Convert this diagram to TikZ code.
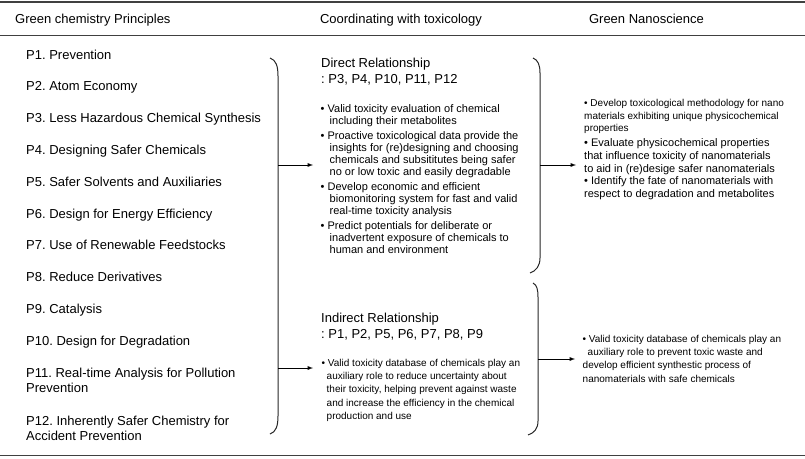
\documentclass[tikz,border=0pt]{standalone}
\usepackage{fontspec}
\setmainfont{Liberation Sans}
\begin{document}
\frenchspacing
\begin{tikzpicture}[x=1pt,y=-1pt,
        txt/.style={anchor=base west,inner sep=0pt,align=left},
        head/.style={font=\fontsize{13}{15.5}\selectfont},
        bulbig/.style={font=\fontsize{11}{12}\selectfont},
        bulsmall/.style={font=\fontsize{10}{13.2}\selectfont},
        rule/.style={black!75,line width=1.5pt},
        brace/.style={black!85,line width=1pt},
        arr/.style={-latex,line width=0.9pt}]
    \useasboundingbox (0,0) rectangle (805,458);

    % Linien der Tabelle
    \draw[rule] (0,2) -- (805,2);
    \draw[rule] (0,35.5) -- (805,35.5);
    \draw[rule] (0,455.5) -- (805,455.5);

    % Spaltenköpfe
    \node[txt,head] (h1) at (15,23) {Green chemistry Principles};
    \node[head,anchor=base,inner sep=0pt] (h2) at (401,23) {Coordinating with toxicology};
    \node[head,anchor=base,inner sep=0pt] (h3) at (646.5,23) {Green Nanoscience};

    % Prinzipien P1 bis P12 (Basislinie = letzte Zeile)
    \foreach \i/\txt in {1/Prevention, 2/Atom Economy, 3/Less Hazardous Chemical Synthesis,
            4/Designing Safer Chemicals, 5/Safer Solvents and Auxiliaries,
            6/Design for Energy Efficiency, 7/Use of Renewable Feedstocks,
            8/Reduce Derivatives, 9/Catalysis, 10/Design for Degradation} {
        \node[txt,head] (p\i) at (26,{59+31.8*(\i-1)}) {P\i. \txt};
    }
    \node[txt,head] (p11) at (26,392.5) {P11. Real-time Analysis for Pollution\\Prevention};
    \node[txt,head] (p12) at (26,440.5) {P12. Inherently Safer Chemistry for\\Accident Prevention};

    % Mittlere Spalte
    \node[txt,head] (dirhead) at (321,83) {Direct Relationship\\: P3, P4, P10, P11, P12};
    \node[txt,bulbig] (dirbul) at (320.5,253) {%
        • Valid toxicity evaluation of chemical\\
        \hspace*{9pt}including their metabolites\\[3pt]
        • Proactive toxicological data provide the\\
        \hspace*{9pt}insights for (re)designing and choosing\\
        \hspace*{9pt}chemicals and subsititutes being safer\\
        \hspace*{9pt}no or low toxic and easily degradable\\[3pt]
        • Develop economic and efficient\\
        \hspace*{9pt}biomonitoring system for fast and valid\\
        \hspace*{9pt}real-time toxicity analysis\\[3pt]
        • Predict potentials for deliberate or\\
        \hspace*{9pt}inadvertent exposure of chemicals to\\
        \hspace*{9pt}human and environment};
    \node[txt,head] (indhead) at (321,338) {Indirect Relationship\\: P1, P2, P5, P6, P7, P8, P9};
    \node[txt,bulsmall] (indbul) at (321.5,419.3) {%
        • Valid toxicity database of chemicals play an\\
        \hspace*{5pt}auxiliary role to reduce uncertainty about\\
        \hspace*{5pt}their toxicity, helping prevent against waste\\
        \hspace*{5pt}and increase the efficiency in the chemical\\
        \hspace*{5pt}production and use};

    % Rechte Spalte
    \node[txt,font=\fontsize{10}{12.5}\selectfont] (nanoa) at (584,131.7) {%
        • Develop toxicological methodology for nano\\
        materials exhibiting unique physicochemical\\
        properties};
    \node[txt,font=\fontsize{11}{12.7}\selectfont] (nanob) at (584,197.5) {%
        • Evaluate physicochemical properties\\
        that influence toxicity of nanomaterials\\
        to aid in (re)desige safer nanomaterials\\
        • Identify the fate of nanomaterials with\\
        respect to degradation and metabolites};
    \node[txt,font=\fontsize{10}{13.3}\selectfont] (nanoc) at (582.5,382.2) {%
        • Valid toxicity database of chemicals play an\\
        \hspace*{5pt}auxiliary role to prevent toxic waste and\\
        develop efficient synthestic process of\\
        nanomaterials with safe chemicals};

    % Klammern
    \draw[brace] (270,58) .. controls (276,60) and (278,66) .. (278,76)
        -- (278,416) .. controls (278,426) and (276,432) .. (270,434);
    \draw[brace] (533,58) .. controls (538,60) and (540,65) .. (540,73)
        -- (540,258) .. controls (540,266) and (536,271) .. (530,273);
    \draw[brace] (533,283) .. controls (537,285) and (538,290) .. (538,297)
        -- (538,421) .. controls (538,429) and (534,433) .. (528,435);
    \coordinate (lb1) at (278,165);
    \coordinate (lb2) at (278,368);
    \coordinate (mb1) at (540,165);
    \coordinate (mb2) at (538,359);

    % Pfeile
    \draw[arr,shorten >=7.5pt] (lb1) -- (dirbul.west |- lb1);
    \draw[arr,shorten >=8.5pt] (lb2) -- (indbul.west |- lb2);
    \draw[arr,shorten >=8pt] (mb1) -- (nanob.west |- mb1);
    \draw[arr,shorten >=7.5pt] (mb2) -- (nanoc.west |- mb2);

\end{tikzpicture}
\end{document}
